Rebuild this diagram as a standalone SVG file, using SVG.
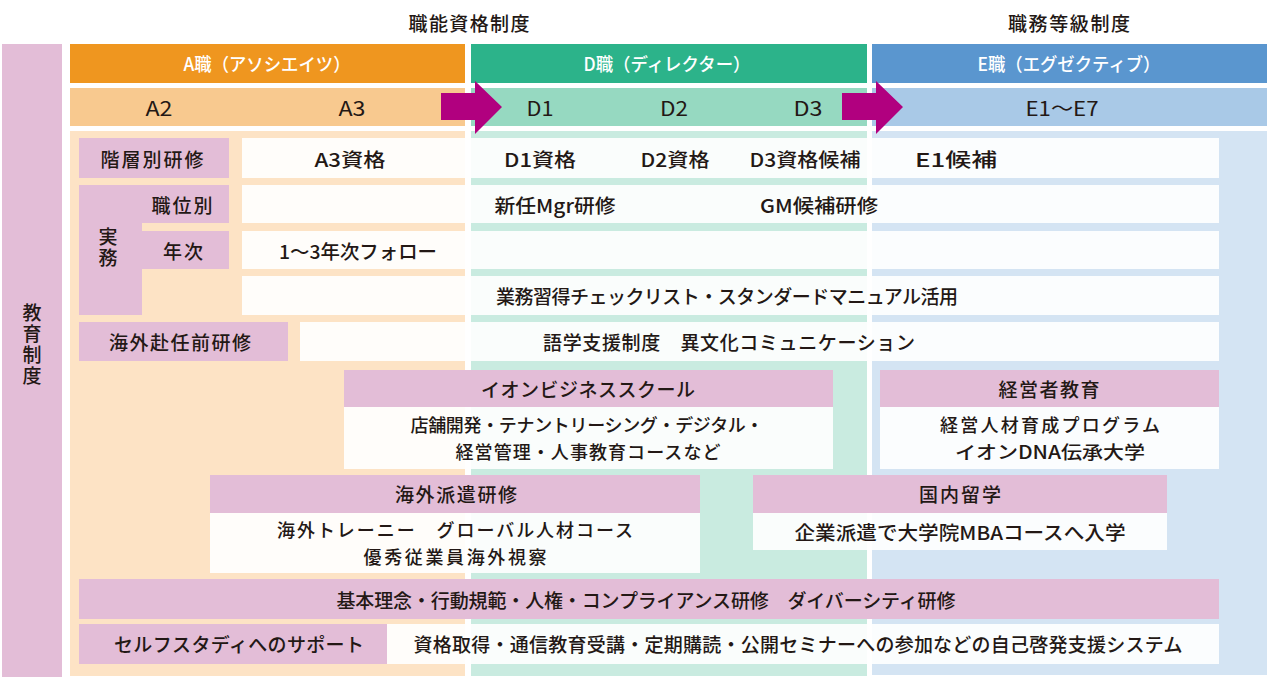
<svg xmlns="http://www.w3.org/2000/svg" width="1269" height="677" viewBox="0 0 1269 677">
<style>
text{font-family:"Noto Sans CJK JP","Noto Sans",sans-serif;fill:#231815;font-size:19px;font-weight:500;text-anchor:middle;dominant-baseline:central}
.hd{fill:#fff;font-size:18px}
.lv{font-size:20px;font-weight:400}
.b2{font-size:18px}
.vt{writing-mode:vertical-rl;text-orientation:upright}
.pk{fill:#e3bdd7}
.wb{fill:#fff;fill-opacity:0.9}
.arrow{fill:#b1007f}
</style>
<rect width="1269" height="677" fill="#fff"/>
<g id="titles">
<text x="469" y="22" textLength="121">職能資格制度</text>
<text x="1069" y="22" textLength="122">職務等級制度</text>
</g>
<g id="col-A">
<rect x="70" y="44" width="395" height="39" fill="#ef961f"/>
<rect x="70" y="88" width="395" height="38" fill="#f8c98f"/>
<rect x="70" y="131" width="395" height="545" fill="#fde3c5"/>
<text class="hd" x="267" y="63" textLength="167" lengthAdjust="spacingAndGlyphs">A職（アソシエイツ）</text>
<text class="lv" x="159" y="107" textLength="27" lengthAdjust="spacingAndGlyphs">A2</text>
<text class="lv" x="352" y="107" textLength="27" lengthAdjust="spacingAndGlyphs">A3</text>
</g>
<g id="col-D">
<rect x="471" y="44" width="396" height="39" fill="#2cb38a"/>
<rect x="471" y="88" width="396" height="38" fill="#96d9c1"/>
<rect x="471" y="131" width="396" height="545" fill="#c9ebe0"/>
<text class="hd" x="667" y="63" textLength="167" lengthAdjust="spacingAndGlyphs">D職（ディレクター）</text>
<text class="lv" x="540" y="107" textLength="27" lengthAdjust="spacingAndGlyphs">D1</text>
<text class="lv" x="674" y="107" textLength="28" lengthAdjust="spacingAndGlyphs">D2</text>
<text class="lv" x="808" y="107" textLength="29" lengthAdjust="spacingAndGlyphs">D3</text>
</g>
<g id="col-E">
<rect x="872" y="44" width="395" height="39" fill="#5a96cf"/>
<rect x="872" y="88" width="395" height="38" fill="#a9c9e7"/>
<rect x="872" y="131" width="395" height="544" fill="#d4e4f3"/>
<text class="hd" x="1069" y="63" textLength="183" lengthAdjust="spacingAndGlyphs">E職（エグゼクティブ）</text>
<text class="lv" x="1062" y="107" textLength="73" lengthAdjust="spacingAndGlyphs">E1〜E7</text>
</g>
<g id="connectors">
<polygon class="arrow" points="441,93 475,93 475,81 502,107 475,134 475,120 441,120"/>
<polygon class="arrow" points="842,93 876,93 876,81 903,107 876,134 876,120 842,120"/>
</g>
<g id="kyoiku-seido">
<rect class="pk" x="2" y="44" width="60" height="633"/>
<text class="vt" x="32" y="345" font-size="20" letter-spacing="2">教育制度</text>
</g>
<g id="kaisobetsu">
<rect class="pk" x="79" y="138" width="150" height="40"/>
<rect class="wb" x="242" y="138" width="977" height="40"/>
<text x="152" y="158" textLength="103">階層別研修</text>
<text x="350" y="158" textLength="71" lengthAdjust="spacingAndGlyphs">A3資格</text>
<text x="540" y="158" textLength="72" lengthAdjust="spacingAndGlyphs">D1資格</text>
<text x="675" y="158" textLength="69" lengthAdjust="spacingAndGlyphs">D2資格</text>
<text x="805" y="158" textLength="111" lengthAdjust="spacingAndGlyphs">D3資格候補</text>
<text x="956" y="158" textLength="82" lengthAdjust="spacingAndGlyphs">E1候補</text>
</g>
<g id="jitsumu">
<path class="pk" d="M79,185 H229 V223 H142 V231 H229 V269 H142 V315 H79 Z"/>
<text class="vt" x="108" y="248.5" letter-spacing="2">実務</text>
<text x="182" y="204" textLength="61">職位別</text>
<text x="183" y="250" textLength="40">年次</text>
<rect class="wb" x="242" y="185" width="977" height="38"/>
<rect class="wb" x="242" y="231" width="977" height="38"/>
<rect class="wb" x="242" y="276" width="977" height="39"/>
<text x="555" y="204" textLength="121" lengthAdjust="spacingAndGlyphs">新任Mgr研修</text>
<text x="819" y="204" textLength="118" lengthAdjust="spacingAndGlyphs">GM候補研修</text>
<text x="358" y="250" textLength="158" lengthAdjust="spacingAndGlyphs">1〜3年次フォロー</text>
<text x="727" y="295" textLength="462">業務習得チェックリスト・スタンダードマニュアル活用</text>
</g>
<g id="kaigai-funin">
<rect class="pk" x="79" y="322" width="209" height="39"/>
<rect class="wb" x="300" y="322" width="919" height="39"/>
<text x="180" y="341" textLength="142">海外赴任前研修</text>
<text x="729" y="341" textLength="372">語学支援制度　異文化コミュニケーション</text>
</g>
<g id="business-school">
<rect class="pk" x="344" y="370" width="489" height="37"/>
<rect class="wb" x="344" y="407" width="489" height="62"/>
<text x="588" y="388" textLength="214">イオンビジネススクール</text>
<text class="b2"><tspan x="587" y="424" textLength="353">店舗開発・テナントリーシング・デジタル・</tspan><tspan x="588" y="451" textLength="265">経営管理・人事教育コースなど</tspan></text>
</g>
<g id="keieisha">
<rect class="pk" x="880" y="370" width="339" height="37"/>
<rect class="wb" x="880" y="407" width="339" height="62"/>
<text x="1049" y="388" textLength="101">経営者教育</text>
<text class="b2"><tspan x="1050" y="424" textLength="220">経営人材育成プログラム</tspan><tspan x="1050" y="451" textLength="190" lengthAdjust="spacingAndGlyphs">イオンDNA伝承大学</tspan></text>
</g>
<g id="kaigai-haken">
<rect class="pk" x="210" y="475" width="490" height="38"/>
<rect class="wb" x="210" y="513" width="490" height="60"/>
<text x="456" y="493" textLength="122">海外派遣研修</text>
<text class="b2"><tspan x="455" y="529" textLength="356">海外トレーニー　グローバル人材コース</tspan><tspan x="455" y="556" textLength="183">優秀従業員海外視察</tspan></text>
</g>
<g id="kokunai-ryugaku">
<rect class="pk" x="753" y="475" width="414" height="38"/>
<rect class="wb" x="753" y="513" width="414" height="37"/>
<text x="960" y="493" textLength="82">国内留学</text>
<text x="960" y="531" textLength="331" lengthAdjust="spacingAndGlyphs">企業派遣で大学院MBAコースへ入学</text>
</g>
<g id="kihon-rinen">
<rect class="pk" x="79" y="579" width="1140" height="40"/>
<text x="646" y="599" textLength="619">基本理念・行動規範・人権・コンプライアンス研修　ダイバーシティ研修</text>
</g>
<g id="self-study">
<rect class="pk" x="79" y="624" width="308" height="40"/>
<rect class="wb" x="387" y="624" width="832" height="40"/>
<text x="239" y="643" textLength="250">セルフスタディへのサポート</text>
<text x="798" y="643" textLength="769">資格取得・通信教育受講・定期購読・公開セミナーへの参加などの自己啓発支援システム</text>
</g>
</svg>
